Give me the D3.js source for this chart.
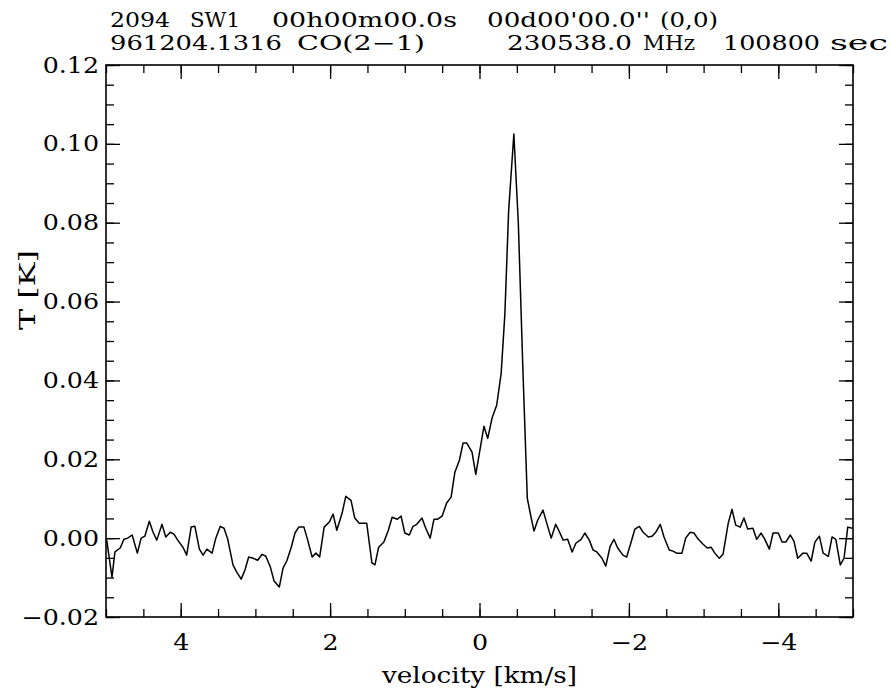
<!DOCTYPE html>
<html>
<head>
<meta charset="utf-8">
<script src="https://cdn.jsdelivr.net/npm/d3@7"></script>
<style>
  body { margin: 0; background: #fff; }
  text { font-family: "DejaVu Serif", serif; fill: #000; }
</style>
</head>
<body>
<div id="chart"></div>
<script>
// spectrum: velocity (km/s) and antenna temperature (K)
var velocity = [
  4.99, 4.92, 4.88, 4.81, 4.76, 4.71, 4.65, 4.58, 4.53, 4.48,
  4.42, 4.37, 4.32, 4.25, 4.20, 4.14, 4.09, 4.04, 3.97, 3.92,
  3.86, 3.81, 3.75, 3.70, 3.65, 3.58, 3.53, 3.47, 3.42, 3.37,
  3.30, 3.25, 3.19, 3.14, 3.09, 3.03, 2.97, 2.91, 2.86, 2.80,
  2.75, 2.68, 2.63, 2.58, 2.52, 2.47, 2.42, 2.35, 2.30, 2.24,
  2.19, 2.14, 2.08, 2.01, 1.96, 1.91, 1.84, 1.79, 1.72, 1.67,
  1.61, 1.56, 1.51, 1.44, 1.40, 1.35, 1.28, 1.22, 1.17, 1.10,
  1.05, 1.00, 0.94, 0.89, 0.84, 0.77, 0.72, 0.66, 0.61, 0.56,
  0.50, 0.44, 0.38, 0.33, 0.27, 0.22, 0.17, 0.10, 0.05, -0.01,
  -0.06, -0.11, -0.17, -0.23, -0.29, -0.34, -0.39, -0.46, -0.52, -0.58,
  -0.64, -0.69, -0.73, -0.78, -0.85, -0.90, -0.96, -1.02, -1.06, -1.12,
  -1.18, -1.24, -1.29, -1.36, -1.41, -1.47, -1.52, -1.57, -1.64, -1.69,
  -1.75, -1.80, -1.85, -1.92, -1.97, -2.03, -2.08, -2.14, -2.19, -2.26,
  -2.31, -2.36, -2.42, -2.47, -2.54, -2.59, -2.64, -2.71, -2.76, -2.82,
  -2.87, -2.93, -2.99, -3.05, -3.10, -3.15, -3.21, -3.26, -3.33, -3.38,
  -3.43, -3.49, -3.54, -3.59, -3.66, -3.71, -3.77, -3.82, -3.88, -3.93,
  -4.00, -4.05, -4.10, -4.16, -4.21, -4.26, -4.33, -4.38, -4.44, -4.49,
  -4.55, -4.60, -4.67, -4.72, -4.77, -4.83, -4.88, -4.93, -4.99
];
var temperature = [
  -0.0005, -0.0099, -0.0035, -0.0025, -0.0003, 0.0000, 0.0008, -0.0038, 0.0000, 0.0005,
  0.0043, 0.0015, -0.0005, 0.0035, 0.0003, 0.0015, 0.0010, -0.0005, -0.0023, -0.0043,
  0.0028, 0.0030, -0.0028, -0.0043, -0.0028, -0.0038, 0.0000, 0.0030, 0.0025, -0.0003,
  -0.0068, -0.0086, -0.0104, -0.0081, -0.0048, -0.0051, -0.0056, -0.0041, -0.0046, -0.0073,
  -0.0109, -0.0124, -0.0076, -0.0058, -0.0023, 0.0013, 0.0028, 0.0028, -0.0005, -0.0048,
  -0.0038, -0.0048, 0.0028, 0.0041, 0.0061, 0.0020, 0.0063, 0.0106, 0.0096, 0.0051,
  0.0038, 0.0038, 0.0038, -0.0063, -0.0068, -0.0023, -0.0010, 0.0020, 0.0053, 0.0048,
  0.0056, 0.0013, 0.0008, 0.0030, 0.0035, 0.0051, 0.0025, 0.0000, 0.0048, 0.0048,
  0.0056, 0.0089, 0.0104, 0.0167, 0.0197, 0.0241, 0.0241, 0.0218, 0.0162, 0.0228,
  0.0284, 0.0253, 0.0306, 0.0337, 0.0418, 0.0570, 0.0830, 0.1025, 0.0798, 0.0433,
  0.0101, 0.0053, 0.0018, 0.0046, 0.0071, 0.0038, 0.0000, 0.0035, 0.0020, -0.0005,
  -0.0003, -0.0035, -0.0013, -0.0003, 0.0013, -0.0005, -0.0030, -0.0035, -0.0051, -0.0071,
  -0.0020, -0.0003, -0.0025, -0.0043, -0.0048, -0.0010, 0.0023, 0.0030, 0.0015, 0.0003,
  0.0005, 0.0015, 0.0035, 0.0003, -0.0030, -0.0033, -0.0038, -0.0038, 0.0000, 0.0015,
  0.0013, -0.0003, -0.0015, -0.0025, -0.0023, -0.0038, -0.0051, -0.0041, 0.0038, 0.0073,
  0.0033, 0.0028, 0.0051, 0.0023, 0.0025, -0.0003, 0.0013, -0.0003, -0.0028, 0.0013,
  0.0013, -0.0010, -0.0010, 0.0008, -0.0008, -0.0051, -0.0038, -0.0038, -0.0058, -0.0010,
  0.0005, -0.0038, -0.0046, 0.0003, -0.0003, -0.0068, -0.0051, 0.0028, 0.0025
];

var xMajor = [4, 2, 0, -2, -4];
var xMinor = [5, 4.5, 4, 3.5, 3, 2.5, 2, 1.5, 1, 0.5, 0, -0.5, -1, -1.5, -2, -2.5, -3, -3.5, -4, -4.5, -5];
var yMajor = [-0.02, 0.00, 0.02, 0.04, 0.06, 0.08, 0.10, 0.12];
var yMinor = [-0.02, -0.015, -0.01, -0.005, 0, 0.005, 0.01, 0.015, 0.02, 0.025, 0.03, 0.035, 0.04,
              0.045, 0.05, 0.055, 0.06, 0.065, 0.07, 0.075, 0.08, 0.085, 0.09, 0.095, 0.10, 0.105, 0.11, 0.115, 0.12];

// header lines: [text, x start, width]
var header1 = [["2094", 110, 60], ["SW1", 190, 50], ["00h00m00.0s", 272, 185], ["00d00'00.0''", 487, 163], ["(0,0)", 660, 58]];
var header2 = [["961204.1316", 110, 172], ["CO(2\u22121)", 297, 128], ["230538.0", 507, 125], ["MHz", 643, 52], ["100800", 723, 97], ["sec", 830, 58]];

(function() {
  var width = 892, height = 689;
  var plotLeft = 106, plotRight = 853, plotTop = 65, plotBottom = 617;
  var stretch = 1.15;

  var svg = d3.select("#chart").append("svg")
    .attr("width", width)
    .attr("height", height);

  var x = d3.scaleLinear().domain([5, -5]).range([plotLeft, plotRight]);
  var y = d3.scaleLinear().domain([-0.02, 0.12]).range([plotBottom, plotTop]);

  function fmtMinus(s) { return s.replace("-", "\u2212"); }

  function widen(sel) {
    sel.each(function() {
      var w = this.getComputedTextLength();
      d3.select(this).attr("textLength", w * stretch).attr("lengthAdjust", "spacingAndGlyphs");
    });
  }

  function tickGroup(axis, tx, ty) {
    var g = svg.append("g")
      .attr("transform", "translate(" + tx + "," + ty + ")")
      .call(axis);
    g.select(".domain").remove();
    g.selectAll("line").attr("stroke", "#000").attr("stroke-width", 1.3);
    return g;
  }

  // minor ticks on all four sides
  tickGroup(d3.axisBottom(x).tickValues(xMinor).tickSize(-8).tickFormat(""), 0, plotBottom);
  tickGroup(d3.axisTop(x).tickValues(xMinor).tickSize(-8).tickFormat(""), 0, plotTop);
  tickGroup(d3.axisLeft(y).tickValues(yMinor).tickSize(-8).tickFormat(""), plotLeft, 0);
  tickGroup(d3.axisRight(y).tickValues(yMinor).tickSize(-8).tickFormat(""), plotRight, 0);

  // major ticks
  var xAx = tickGroup(d3.axisBottom(x).tickValues(xMajor).tickSize(-14).tickPadding(17)
    .tickFormat(function(d) { return fmtMinus(d3.format("d")(d)); }), 0, plotBottom);
  tickGroup(d3.axisTop(x).tickValues(xMajor).tickSize(-14).tickFormat(""), 0, plotTop);
  var yAx = tickGroup(d3.axisLeft(y).tickValues(yMajor).tickSize(-14).tickPadding(7)
    .tickFormat(function(d) { return fmtMinus(d3.format(".2f")(d)); }), plotLeft, 0);
  tickGroup(d3.axisRight(y).tickValues(yMajor).tickSize(-14).tickFormat(""), plotRight, 0);

  xAx.selectAll("text").attr("font-size", 22).attr("font-family", "DejaVu Serif").call(widen);
  yAx.selectAll("text").attr("font-size", 22).attr("font-family", "DejaVu Serif").call(widen);

  // frame
  svg.append("rect")
    .attr("x", plotLeft).attr("y", plotTop)
    .attr("width", plotRight - plotLeft).attr("height", plotBottom - plotTop)
    .attr("fill", "none").attr("stroke", "#000").attr("stroke-width", 1.6);

  // spectrum
  var pts = velocity.map(function(v, i) { return [v, temperature[i]]; });
  var line = d3.line()
    .x(function(d) { return x(d[0]); })
    .y(function(d) { return y(d[1]); });

  svg.append("path")
    .datum(pts)
    .attr("d", line)
    .attr("fill", "none")
    .attr("stroke", "#000")
    .attr("stroke-width", 1.5)
    .attr("stroke-linejoin", "round");

  // axis titles
  svg.append("text")
    .attr("x", (plotLeft + plotRight) / 2).attr("y", 683)
    .attr("text-anchor", "middle")
    .attr("font-size", 22)
    .attr("textLength", 195).attr("lengthAdjust", "spacingAndGlyphs")
    .text("velocity [km/s]");

  svg.append("text")
    .attr("transform", "translate(35,290) rotate(-90)")
    .attr("text-anchor", "middle")
    .attr("font-size", 22)
    .attr("textLength", 80).attr("lengthAdjust", "spacingAndGlyphs")
    .text("T [K]");

  // header
  function headerLine(items, base) {
    svg.selectAll(null)
      .data(items)
      .enter()
      .append("text")
        .attr("x", function(d) { return d[1]; })
        .attr("y", base)
        .attr("font-size", 20)
        .attr("textLength", function(d) { return d[2]; })
        .attr("lengthAdjust", "spacingAndGlyphs")
        .text(function(d) { return d[0]; });
  }
  headerLine(header1, 26.5);
  headerLine(header2, 50);
})();
</script>
</body>
</html>
